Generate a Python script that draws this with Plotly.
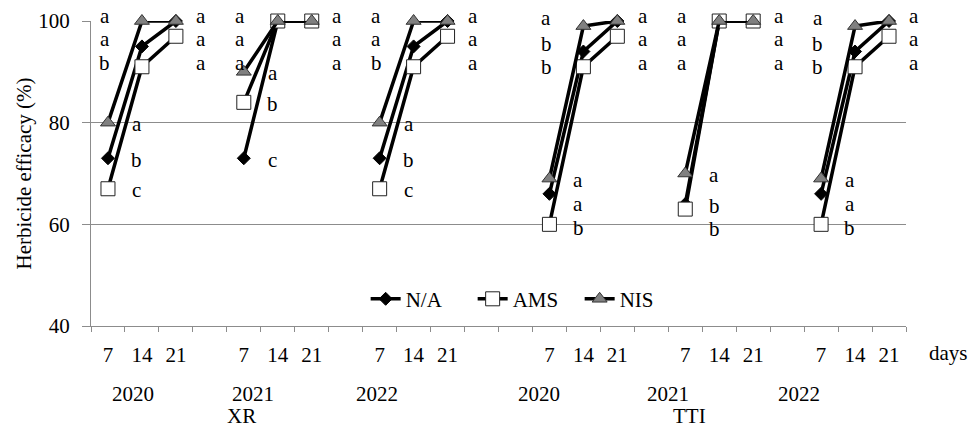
import plotly.graph_objects as go

# ---------------- data ----------------
days = ["7", "14", "21"]
years = ["2020", "2021", "2022"]
methods = ["XR", "TTI"]
series_names = ["N/A", "AMS", "NIS"]

# Herbicide efficacy (%) in order: XR 2020 (7,14,21), XR 2021, XR 2022, TTI 2020, TTI 2021, TTI 2022
na_vals = [73, 95, 100, 73, 100, 100, 73, 95, 100, 66, 94, 100, 64, 100, 100, 66, 94, 100]
ams_vals = [67, 91, 97, 84, 100, 100, 67, 91, 97, 60, 91, 97, 63, 100, 100, 60, 91, 97]
nis_vals = [80, 100, 100, 90, 100, 100, 80, 100, 100, 69, 99, 100, 70, 100, 100, 69, 99, 100]

# mean separation letters
na_letters = ["b", "a", "a", "c", "a", "a", "b", "a", "a", "a", "b", "a", "b", "a", "a", "a", "b", "a"]
ams_letters = ["c", "b", "a", "b", "a", "a", "c", "b", "a", "b", "b", "a", "b", "a", "a", "b", "b", "a"]
nis_letters = ["a", "a", "a", "a", "a", "a", "a", "a", "a", "a", "a", "a", "a", "a", "a", "a", "a", "a"]

y_ticks = [40, 60, 80, 100]

# ---------------- layout of the category axis ----------------
FONT = "Liberation Serif"
FS = 21
GRAY = "#8c8c8c"
N_CATS = 24
Y_MIN, Y_MAX = 40, 100


def cat_pos(m, y, d):
    # 3 days per year, one blank slot between years, two between methods
    return 1 + m * 13 + y * 4 + d


def to_paper_x(x):
    return (x - 0.5) / N_CATS


def to_paper_y(v):
    return (v - Y_MIN) / (Y_MAX - Y_MIN)


groups = [(m, y) for m in range(len(methods)) for y in range(len(years))]


def build_xy(vals):
    xs, ys = [], []
    for gi, (m, y) in enumerate(groups):
        for d in range(len(days)):
            xs.append(cat_pos(m, y, d))
            ys.append(vals[gi * 3 + d])
        xs.append(None)
        ys.append(None)
    return xs, ys


styles = {
    "N/A": dict(symbol="diamond", size=10, color="black", line=dict(color="black", width=1)),
    "AMS": dict(symbol="square", size=14, color="white", line=dict(color="#222222", width=1)),
    "NIS": dict(symbol="triangle-up", size=13, color="#808080", line=dict(color="#333333", width=1)),
}

fig = go.Figure()
for name, vals in zip(series_names, [na_vals, ams_vals, nis_vals]):
    xs, ys = build_xy(vals)
    fig.add_trace(go.Scatter(
        x=xs, y=ys, name=name, mode="lines+markers",
        line=dict(color="black", width=3.5),
        marker=styles[name], cliponaxis=False, connectgaps=False,
    ))

txt_font = dict(family=FONT, size=FS, color="black")

# ---------------- letters ----------------
annotations = []
x_off = [0.85, -1.1, 0.75]
for gi, (m, y) in enumerate(groups):
    for d in range(len(days)):
        i = gi * 3 + d
        entries = [(nis_vals[i], nis_letters[i]), (na_vals[i], na_letters[i]), (ams_vals[i], ams_letters[i])]
        entries.sort(key=lambda e: -e[0])
        prev = None
        for v, letter in entries:
            if d == 0:
                ly = v - 0.3
                if prev is not None:
                    ly = min(ly, prev - 4.7)
            else:
                ly = min(v + 1.5, 101)
                if prev is not None:
                    ly = min(ly, prev - 4.6)
            prev = ly
            annotations.append(dict(
                x=to_paper_x(cat_pos(m, y, d) + x_off[d]), y=to_paper_y(ly),
                xref="paper", yref="paper", text=letter,
                showarrow=False, font=txt_font, xanchor="center", yanchor="middle",
            ))

# year labels and method labels under the axis
year_nudge = [-9, -25, -37, -44, -51, -56]
for gi, (m, y) in enumerate(groups):
    annotations.append(dict(
        x=to_paper_x(cat_pos(m, y, 1)), y=0, xref="paper", yref="paper", yshift=-68, xshift=year_nudge[gi],
        text=years[y], showarrow=False, font=txt_font, xanchor="center", yanchor="middle",
    ))
method_nudge = [-36, -30]
for m, name in enumerate(methods):
    annotations.append(dict(
        x=to_paper_x(cat_pos(m, 1, 1)), y=0, xref="paper", yref="paper", yshift=-90, xshift=method_nudge[m],
        text=name, showarrow=False, font=txt_font, xanchor="center", yanchor="middle",
    ))
annotations.append(dict(
    x=1, y=0, xref="paper", yref="paper", xshift=21, yshift=-27,
    text="days", showarrow=False, font=txt_font, xanchor="left", yanchor="middle",
))

tickvals = [cat_pos(m, y, d) for (m, y) in groups for d in range(len(days))]
ticktext = [days[d] for _ in groups for d in range(len(days))]

fig.update_layout(
    width=968, height=430,
    margin=dict(l=91, r=62, t=21, b=104, autoexpand=False),
    paper_bgcolor="white", plot_bgcolor="white",
    font=txt_font,
    showlegend=True,
    legend=dict(
        orientation="h", x=0.337, y=0.088, xanchor="left", yanchor="middle",
        bgcolor="rgba(0,0,0,0)", font=txt_font,
        entrywidth=62, entrywidthmode="pixels", itemsizing="trace",
    ),
    xaxis=dict(
        range=[0.5, N_CATS + 0.5], tickmode="array", tickvals=tickvals, ticktext=ticktext,
        ticks="", showgrid=False, zeroline=False, showline=True, linecolor=GRAY, linewidth=1,
        ticklabelstandoff=10,
        minor=dict(tickmode="array", tickvals=[k + 0.5 for k in range(N_CATS + 1)],
                   ticks="outside", ticklen=5, tickcolor=GRAY, tickwidth=1, showgrid=False),
        tickfont=txt_font,
    ),
    yaxis=dict(
        range=[Y_MIN, Y_MAX], tickmode="array", tickvals=y_ticks, ticktext=[str(v) for v in y_ticks],
        showgrid=True, gridcolor=GRAY, gridwidth=1, zeroline=False,
        showline=True, linecolor=GRAY, linewidth=1,
        ticks="outside", ticklen=8, tickcolor=GRAY, ticklabelstandoff=8,
        tickfont=txt_font,
        title=dict(text="Herbicide efficacy (%)", font=txt_font, standoff=0),
    ),
    annotations=annotations,
)

fig.write_html("out.html", config={"displayModeBar": False},
               post_script="document.body.style.margin='0';")
